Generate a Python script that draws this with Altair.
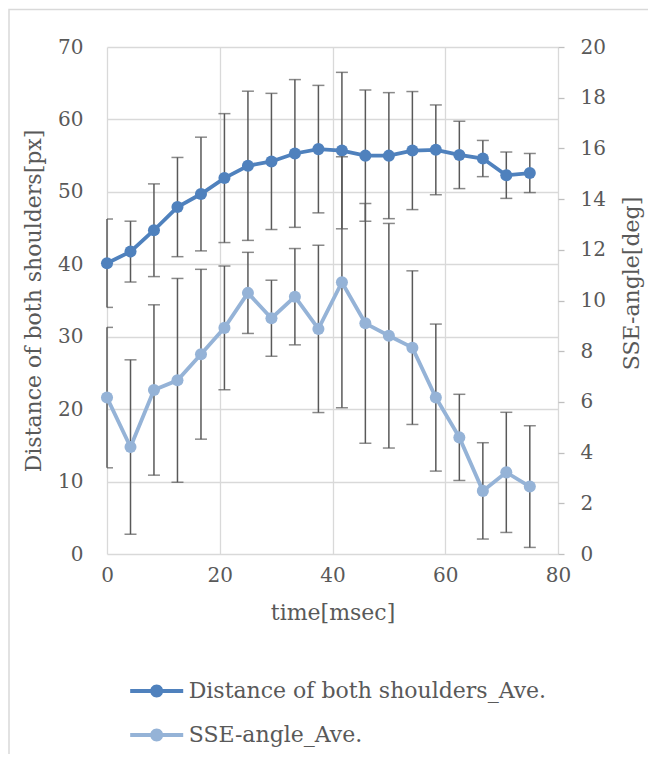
import altair as alt
import pandas as pd

# ---- data ----
times = [0, 4.17, 8.33, 12.5, 16.67, 20.83, 25, 29.17, 33.33, 37.5,
         41.67, 45.83, 50, 54.17, 58.33, 62.5, 66.67, 70.83, 75]
dist_mean = [40.15, 41.75, 44.7, 47.9, 49.7, 51.9, 53.6, 54.2, 55.3, 55.9,
             55.7, 55.0, 55.0, 55.7, 55.8, 55.1, 54.6, 52.3, 52.6]
dist_sd = [6.1, 4.2, 6.4, 6.85, 7.85, 8.9, 10.3, 9.4, 10.2, 8.8,
           10.8, 9.05, 8.7, 8.15, 6.2, 4.65, 2.5, 3.2, 2.7]
sse_mean = [6.17, 4.22, 6.47, 6.85, 7.88, 8.92, 10.3, 9.3, 10.15, 8.88,
            10.72, 9.1, 8.61, 8.14, 6.17, 4.6, 2.49, 3.22, 2.66]
sse_sd = [2.77, 3.44, 3.36, 4.02, 3.35, 2.44, 1.6, 1.5, 1.9, 3.3,
          4.95, 4.73, 4.43, 3.03, 2.9, 1.7, 1.9, 2.37, 2.4]
series_names = ["Distance of both shoulders_Ave.", "SSE-angle_Ave."]
series_colors = ["#4F81BD", "#95B3D7"]
x_ticks = [0, 20, 40, 60, 80]
left_ticks = [0, 10, 20, 30, 40, 50, 60, 70]
right_ticks = [0, 2, 4, 6, 8, 10, 12, 14, 16, 18, 20]


def make_df(mean, sd, name):
    return pd.DataFrame({
        "t": times,
        "v": mean,
        "lo": [m - s for m, s in zip(mean, sd)],
        "hi": [m + s for m, s in zip(mean, sd)],
        "series": name,
    })


dist_df = make_df(dist_mean, dist_sd, series_names[0])
sse_df = make_df(sse_mean, sse_sd, series_names[1])

W, H = 451, 507
FONT = "DejaVu Serif"
TXT = "#595959"
GRID = "#D9D9D9"
ERR = "#595959"

# legend glyph: a line with a dot in the middle
LEGEND_PATH = ("M-2.41,-0.18H2.41V0.18H-2.41Z "
               "M0.59,0A0.59,0.59,0,1,1,-0.59,0A0.59,0.59,0,1,1,0.59,0Z")

x_axis = alt.Axis(values=x_ticks, title="time[msec]", grid=True, gridColor=GRID,
                  gridWidth=1.3, domain=False, ticks=False, tickSize=0, labelFlush=False,
                  labelFont=FONT, labelFontSize=20, labelColor=TXT, labelPadding=11,
                  titleFont=FONT, titleFontSize=22, titleColor=TXT,
                  titleFontWeight="normal", titlePadding=17)
x_scale = alt.Scale(domain=[0, 80], nice=False)

left_scale = alt.Scale(domain=[0, 70], nice=False)
left_axis = alt.Axis(values=left_ticks, orient="left", title="Distance of both shoulders[px]",
                     grid=True, gridColor=GRID, gridWidth=1.3, domain=False,
                     ticks=False, tickSize=0, labelFlush=False, labelFont=FONT,
                     labelFontSize=20, labelColor=TXT, labelPadding=24, titleFont=FONT,
                     titleFontSize=22, titleColor=TXT, titleFontWeight="normal",
                     titlePadding=12)

right_scale = alt.Scale(domain=[0, 20], nice=False)
right_axis = alt.Axis(values=right_ticks, orient="right", title="SSE-angle[deg]",
                      grid=False, domain=False, ticks=True, tickSize=6,
                      tickColor="#BFBFBF", tickWidth=1.3, labelFlush=False,
                      labelFont=FONT, labelFontSize=20, labelColor=TXT, labelPadding=16,
                      titleFont=FONT, titleFontSize=22, titleColor=TXT,
                      titleFontWeight="normal", titlePadding=16, titleAngle=270,
                      titleBaseline="top", titleY=236)

legend = alt.Legend(orient="none", legendX=38.7, legendY=633, direction="vertical",
                    title=None, labelFont=FONT, labelFontSize=22, labelColor=TXT,
                    symbolType=LEGEND_PATH, symbolSize=484, symbolStrokeWidth=0,
                    rowPadding=22, labelOffset=21, padding=0, labelLimit=600)

color_enc = alt.Color("series:N", scale=alt.Scale(domain=series_names, range=series_colors),
                      legend=legend)


def series_layer(df, y_scale, y_axis, col):
    base = alt.Chart(df)
    x = alt.X("t:Q", scale=x_scale, axis=x_axis)
    rule = base.mark_rule(color=ERR, strokeWidth=1.5).encode(
        x=x, y=alt.Y("lo:Q", scale=y_scale, axis=y_axis), y2="hi:Q")
    cap_lo = base.mark_tick(orient="horizontal", size=12, thickness=1.5, color=ERR,
                            clip=True).encode(
        x=x, y=alt.Y("lo:Q", scale=y_scale, axis=y_axis))
    cap_hi = base.mark_tick(orient="horizontal", size=12, thickness=1.5, color=ERR,
                            clip=True).encode(
        x=x, y=alt.Y("hi:Q", scale=y_scale, axis=y_axis))
    line = base.mark_line(strokeWidth=3.8, color=col).encode(
        x=x, y=alt.Y("v:Q", scale=y_scale, axis=y_axis))
    pts = base.mark_point(filled=True, shape="circle", size=145, opacity=1).encode(
        x=x, y=alt.Y("v:Q", scale=y_scale, axis=y_axis), color=color_enc)
    return [rule, cap_lo, cap_hi, line, pts]


frame = alt.Chart(pd.DataFrame({"k": [0]})).mark_rect(
    fill="transparent", stroke=GRID, strokeWidth=1.5).encode(
    x=alt.value(-98), x2=alt.value(W + 200),
    y=alt.value(-37.5), y2=alt.value(H + 400))

left_layer = alt.layer(frame, *series_layer(dist_df, left_scale, left_axis, series_colors[0]))
right_layer = alt.layer(*series_layer(sse_df, right_scale, right_axis, series_colors[1]))

chart = alt.layer(left_layer, right_layer).resolve_scale(y="independent").properties(
    width=W, height=H,
    autosize=alt.AutoSizeParams(type="none"),
    padding={"left": 99, "top": 39, "right": 90, "bottom": 200},
).configure_view(strokeWidth=0)

chart.save("out.html", embed_options={"renderer": "svg", "actions": False})
